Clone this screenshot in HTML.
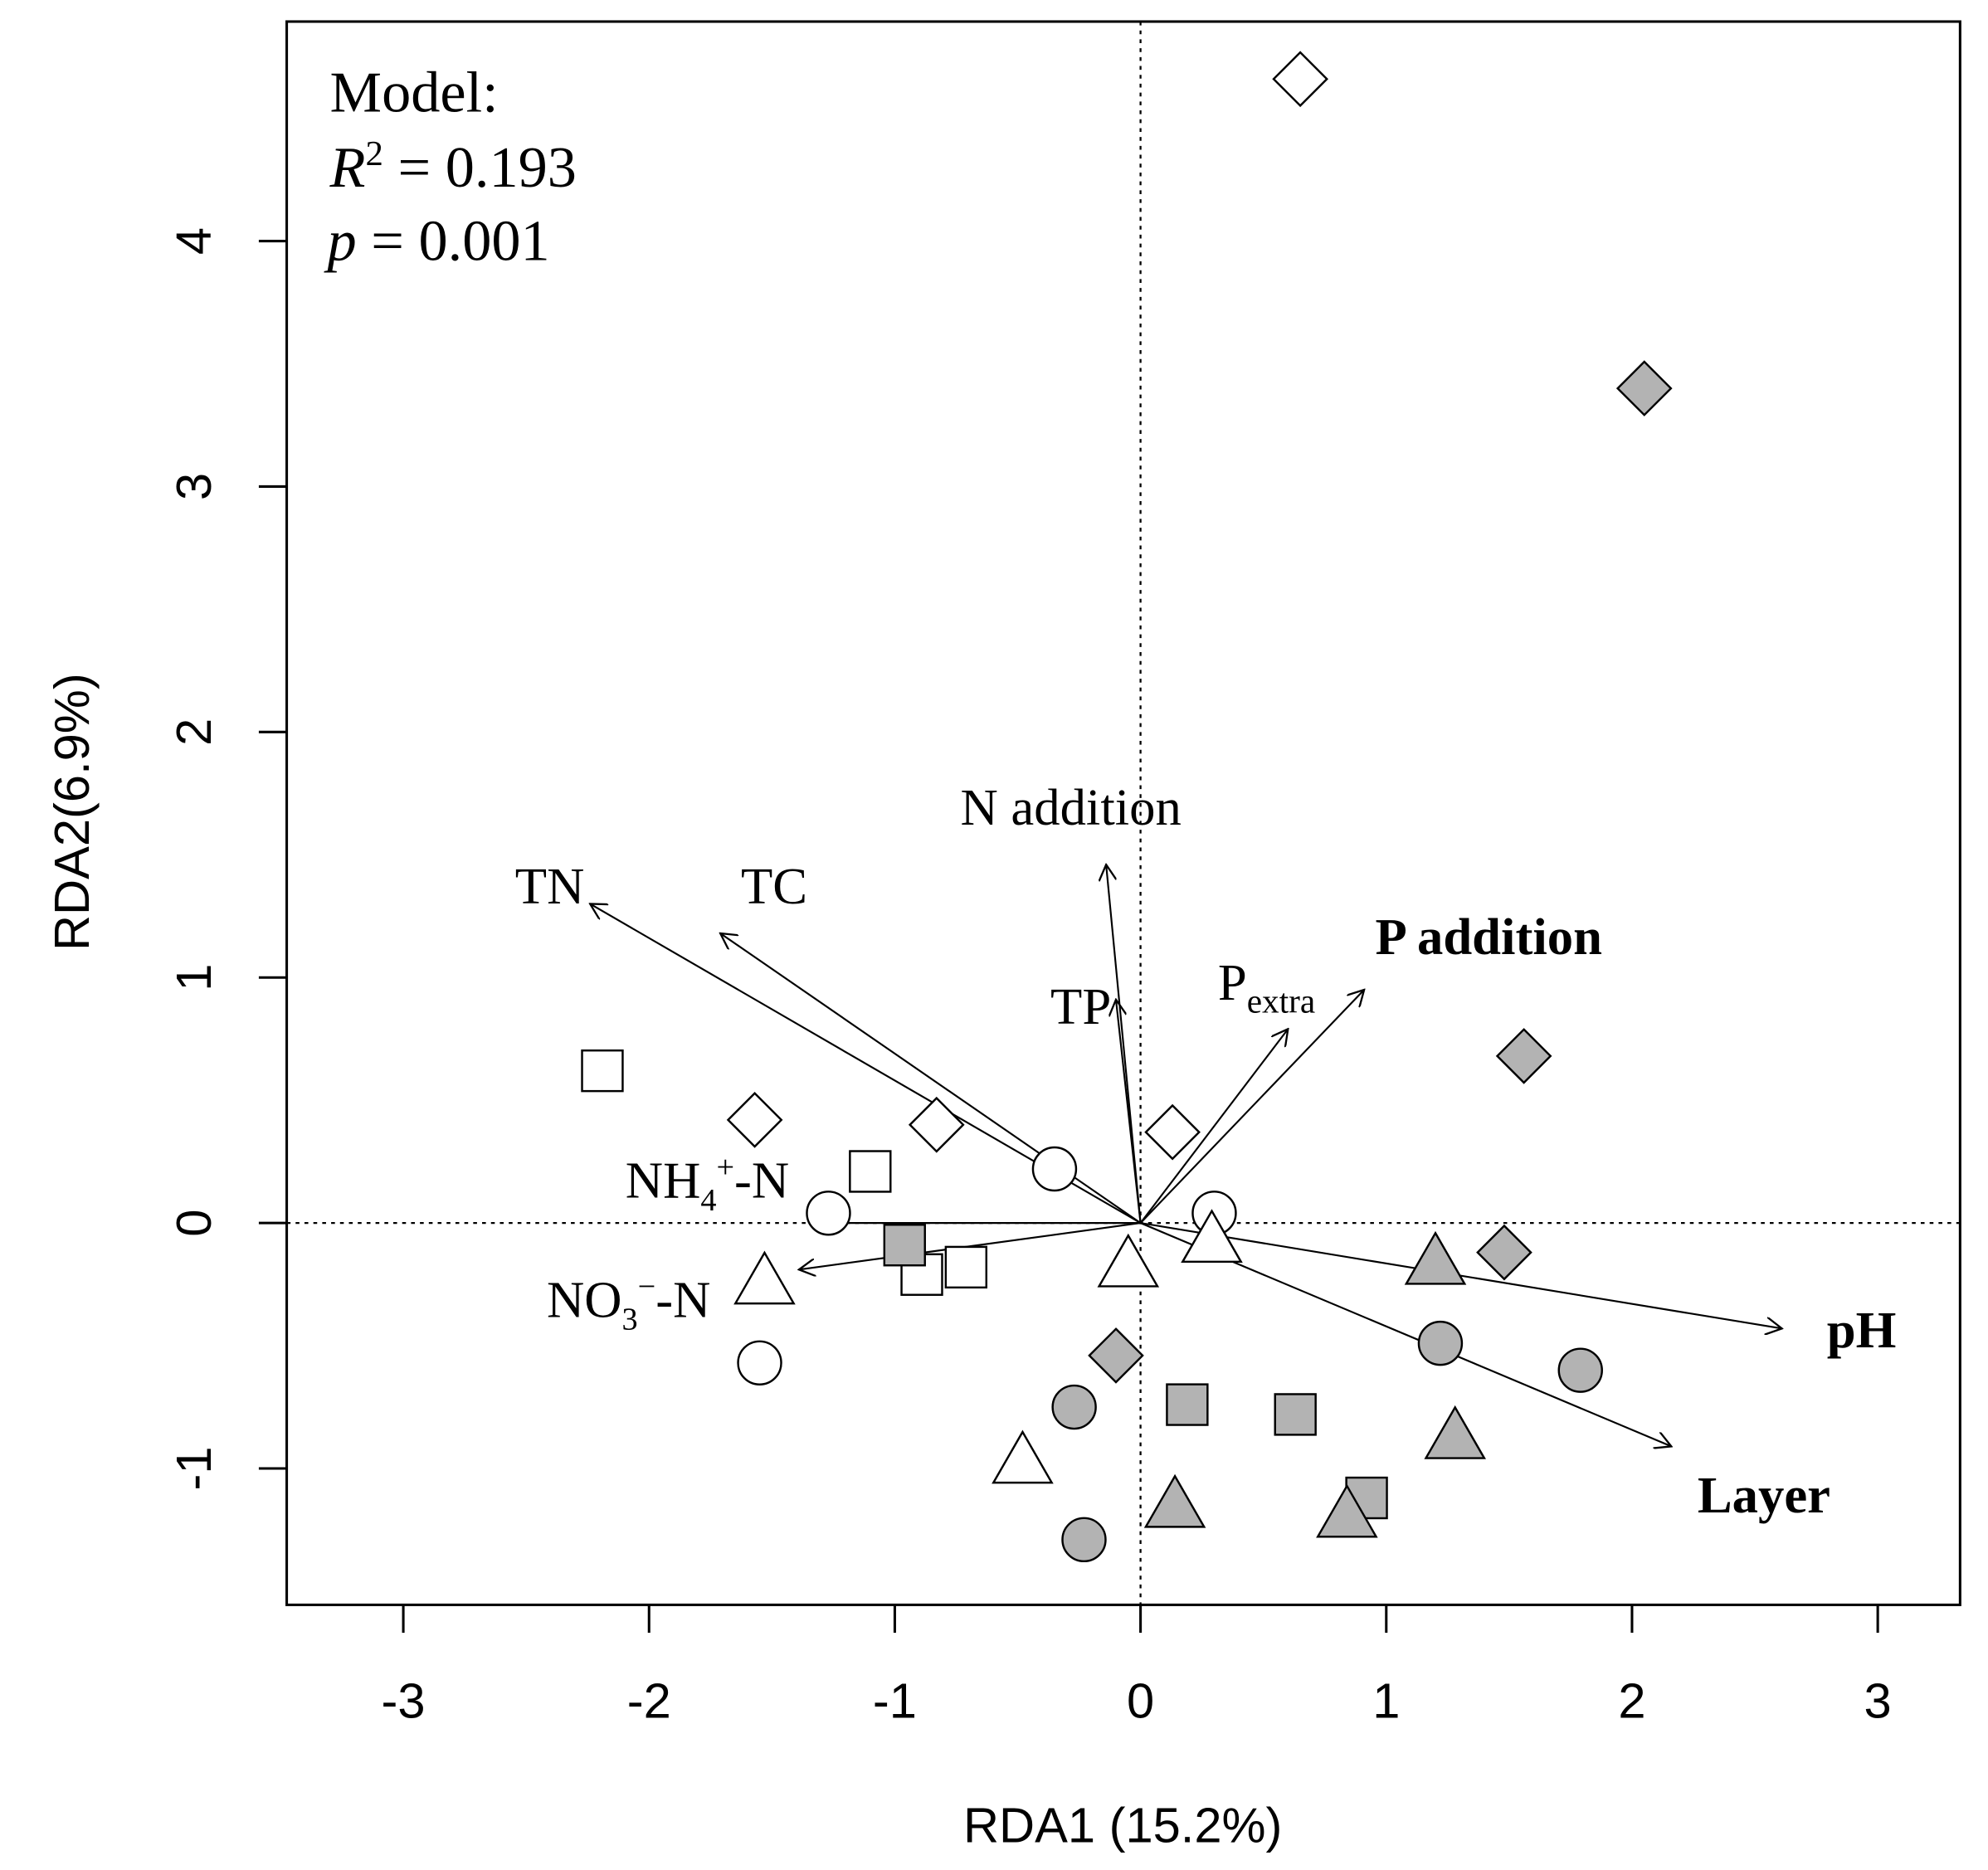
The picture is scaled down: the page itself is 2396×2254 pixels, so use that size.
<!DOCTYPE html>
<html><head><meta charset="utf-8"><style>html,body{margin:0;padding:0;background:#fff}svg{display:block}</style></head>
<body>
<svg id="chart" xmlns="http://www.w3.org/2000/svg" width="2396" height="2254" viewBox="0 0 1567 1474" preserveAspectRatio="none">
<defs><marker id="ah" viewBox="0 0 12 12" refX="11" refY="6" markerWidth="14" markerHeight="14" markerUnits="userSpaceOnUse" orient="auto"><path d="M0,0 L11,6 L0,12" fill="none" stroke="#000" stroke-width="1.3"/></marker></defs>
<rect x="226" y="17" width="1319" height="1248" fill="none" stroke="#000" stroke-width="2"/>
<g id="axes"></g><g id="arrows"></g><g id="points"></g>
<g font-family="'Liberation Serif',serif" font-size="46">
<text x="260" y="88">Model:</text>
<text x="260" y="147"><tspan font-style="italic">R</tspan><tspan font-size="28" dy="-17">2</tspan><tspan dy="17"> = 0.193</tspan></text>
<text x="258" y="205"><tspan font-style="italic">p</tspan> = 0.001</text>
</g>
<text x="885" y="1452" text-anchor="middle" font-family="'Liberation Sans',sans-serif" font-size="39">RDA1 (15.2%)</text>
<text transform="translate(70,640) rotate(-90)" text-anchor="middle" font-family="'Liberation Sans',sans-serif" font-size="39">RDA2(6.9%)</text>
<g font-family="'Liberation Serif',serif" font-size="41">
<text x="406" y="712">TN</text>
<text x="584" y="712">TC</text>
<text x="757" y="650">N addition</text>
<text x="828" y="807">TP</text>
<text x="960" y="788">P<tspan font-size="27" dy="10">extra</tspan></text>
<text x="1084" y="752" font-weight="bold">P addition</text>
<text x="493" y="944">NH<tspan font-size="25" dy="10">4</tspan><tspan font-size="25" dy="-26">+</tspan><tspan dy="16">-N</tspan></text>
<text x="431" y="1038">NO<tspan font-size="25" dy="10">3</tspan><tspan font-size="25" dy="-26">−</tspan><tspan dy="16">-N</tspan></text>
<text x="1440" y="1062" font-weight="bold">pH</text>
<text x="1338" y="1192" font-weight="bold">Layer</text>
</g>
</svg>
<script>
const xTicks=[-3,-2,-1,0,1,2,3];
const yTicks=[-1,0,1,2,3,4];
const arrowNames=['TN','TC','N addition','TP','Pextra','P addition','NH4-N','NO3-N','pH','Layer'];
const arrowX=[-2.24,-1.71,-0.14,-0.10,0.60,0.91,-1.31,-1.39,2.61,2.16];
const arrowY=[1.30,1.18,1.46,0.91,0.79,0.95,0.00,-0.19,-0.43,-0.91];
const ptShape=['diamond','diamond','diamond','diamond','diamond','diamond','diamond','diamond','square','square','square','square','square','square','square','square','circle','circle','circle','circle','circle','circle','circle','circle','triangle','triangle','triangle','triangle','triangle','triangle','triangle','triangle'];
const ptFilled=[0,0,0,0,1,1,1,1,0,0,0,0,1,1,1,1,0,0,0,0,1,1,1,1,0,0,0,0,1,1,1,1];
const ptX=[0.65,-1.57,-0.83,0.13,2.05,1.56,1.48,-0.10,-2.19,-1.10,-0.89,-0.71,-0.96,0.19,0.63,0.92,-0.35,-1.27,0.30,-1.55,1.22,1.79,-0.27,-0.23,-1.53,-0.05,0.29,-0.48,1.20,1.28,0.14,0.84];
const ptY=[4.66,0.42,0.40,0.37,3.40,0.68,-0.12,-0.54,0.62,0.21,-0.21,-0.18,-0.09,-0.74,-0.78,-1.12,0.22,0.04,0.04,-0.57,-0.49,-0.60,-0.75,-1.29,-0.24,-0.17,-0.07,-0.97,-0.16,-0.87,-1.15,-1.19];
const NS='http://www.w3.org/2000/svg';
function sx(v){return 899+v*193.7;}
function sy(v){return 964-v*193.5;}
function mk(tag,attrs,parent){const e=document.createElementNS(NS,tag);for(const k in attrs)e.setAttribute(k,attrs[k]);parent.appendChild(e);return e;}
const axes=document.getElementById('axes');
xTicks.forEach(t=>{
  const l=mk('line',{x1:sx(t),x2:sx(t),y1:1265,y2:1287,stroke:'#000','stroke-width':2},axes);
  
  
  const tx=mk('text',{x:sx(t),y:1354,'text-anchor':'middle','font-family':"'Liberation Sans',sans-serif",'font-size':39},axes);
  tx.textContent=t;
  
  
});
yTicks.forEach(t=>{
  const l=mk('line',{x1:204,x2:226,y1:sy(t),y2:sy(t),stroke:'#000','stroke-width':2},axes);
  
  
  const tx=mk('text',{transform:`translate(166,${sy(t)}) rotate(-90)`,'text-anchor':'middle','font-family':"'Liberation Sans',sans-serif",'font-size':39},axes);
  tx.textContent=t;
  
  
});
const z1=mk('line',{x1:sx(0),x2:sx(0),y1:17,y2:1265,stroke:'#000','stroke-width':1.5,'stroke-dasharray':'3,4'},axes);


const z2=mk('line',{x1:226,x2:1545,y1:sy(0),y2:sy(0),stroke:'#000','stroke-width':1.5,'stroke-dasharray':'3,4'},axes);


const ag=document.getElementById('arrows');
arrowX.forEach((v,i)=>{
  const a=mk('line',{x1:sx(0),y1:sy(0),x2:sx(v),y2:sy(arrowY[i]),stroke:'#000','stroke-width':1.4,'marker-end':'url(#ah)'},ag);
  
  
});
const pg=document.getElementById('points');
ptX.forEach((v,i)=>{
  const x=sx(v),y=sy(ptY[i]);const fill=ptFilled[i]?'#b3b3b3':'#fff';
  const st={fill:fill,stroke:'#000','stroke-width':1.6};
  let e;
  if(ptShape[i]==='diamond')e=mk('polygon',Object.assign({points:`${x},${y-21} ${x+21},${y} ${x},${y+21} ${x-21},${y}`},st),pg);
  else if(ptShape[i]==='square')e=mk('rect',Object.assign({x:x-16,y:y-16,width:32,height:32},st),pg);
  else if(ptShape[i]==='circle')e=mk('circle',Object.assign({cx:x,cy:y,r:17},st),pg);
  else e=mk('polygon',Object.assign({points:`${x},${y-23} ${x+23},${y+17} ${x-23},${y+17}`},st),pg);
  
  
});
</script>
</body></html>
